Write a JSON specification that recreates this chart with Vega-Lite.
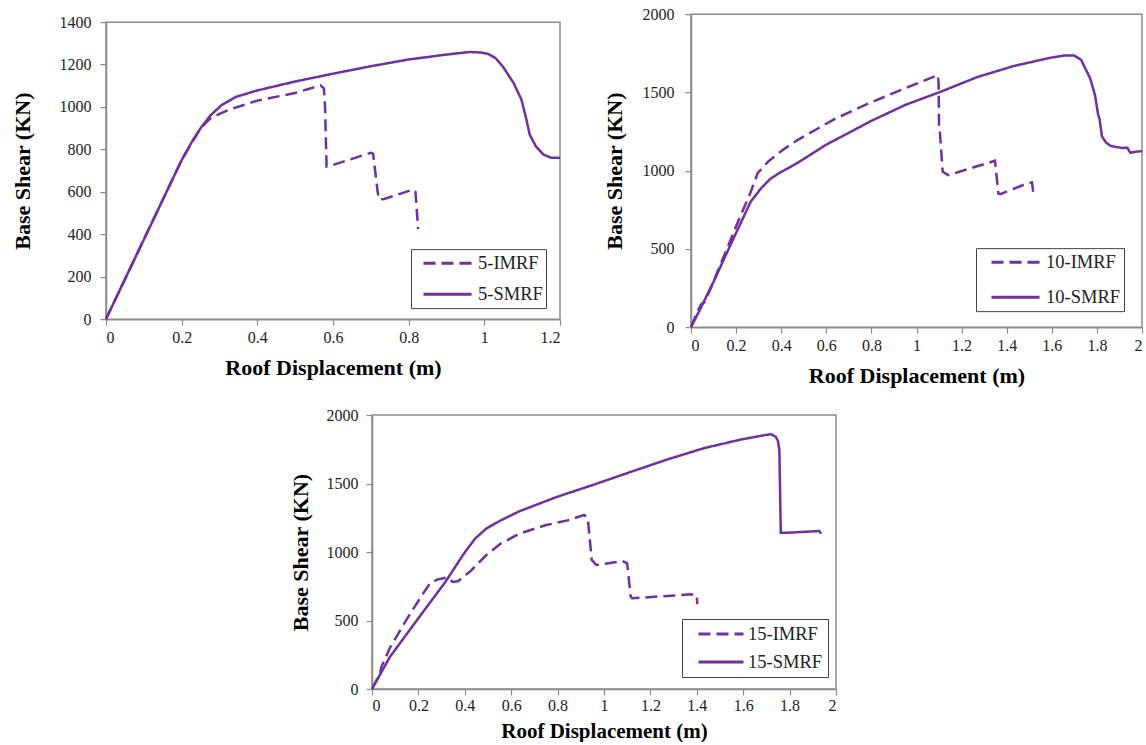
{
  "$schema": "https://vega.github.io/schema/vega-lite/v6.json",
  "padding": {"left": 10, "top": 5, "right": 0, "bottom": 0},
  "background": "white",
  "config": {
    "font": "Liberation Serif",
    "view": {"stroke": "#8c8c8c", "strokeWidth": 1.5},
    "axis": {
      "domainColor": "#8c8c8c", "domainWidth": 1.5, "tickColor": "#8c8c8c", "tickWidth": 1.2, "tickSize": 6,
      "grid": false, "labelFont": "Liberation Serif", "labelFontSize": 16, "labelColor": "#222222",
      "titleFont": "Liberation Serif", "titleFontSize": 22, "titleFontWeight": "bold", "titleColor": "#000000"
    },
    "axisX": {"labelPadding": 4, "titlePadding": 12},
    "legend": {
      "strokeColor": "#444444", "fillColor": "white", "labelFont": "Liberation Serif", "labelFontSize": 18.5,
      "labelColor": "#222222", "symbolType": "stroke", "symbolStrokeColor": "#7030A0", "symbolStrokeWidth": 3
    }
  },
  "datasets": {
    "p5": [
      {"s": "5-SMRF", "x": 0, "y": 0}, {"s": "5-SMRF", "x": 0.05, "y": 188}, {"s": "5-SMRF", "x": 0.1, "y": 375},
      {"s": "5-SMRF", "x": 0.15, "y": 562}, {"s": "5-SMRF", "x": 0.2, "y": 750}, {"s": "5-SMRF", "x": 0.23, "y": 845},
      {"s": "5-SMRF", "x": 0.25, "y": 900}, {"s": "5-SMRF", "x": 0.276, "y": 960}, {"s": "5-SMRF", "x": 0.305, "y": 1008},
      {"s": "5-SMRF", "x": 0.344, "y": 1048}, {"s": "5-SMRF", "x": 0.4, "y": 1078}, {"s": "5-SMRF", "x": 0.5, "y": 1120},
      {"s": "5-SMRF", "x": 0.6, "y": 1157}, {"s": "5-SMRF", "x": 0.7, "y": 1192}, {"s": "5-SMRF", "x": 0.8, "y": 1224},
      {"s": "5-SMRF", "x": 0.9, "y": 1247}, {"s": "5-SMRF", "x": 0.96, "y": 1259}, {"s": "5-SMRF", "x": 0.99, "y": 1257},
      {"s": "5-SMRF", "x": 1.01, "y": 1250}, {"s": "5-SMRF", "x": 1.03, "y": 1230}, {"s": "5-SMRF", "x": 1.05, "y": 1188},
      {"s": "5-SMRF", "x": 1.078, "y": 1111}, {"s": "5-SMRF", "x": 1.098, "y": 1035}, {"s": "5-SMRF", "x": 1.11, "y": 950},
      {"s": "5-SMRF", "x": 1.12, "y": 870}, {"s": "5-SMRF", "x": 1.136, "y": 815}, {"s": "5-SMRF", "x": 1.156, "y": 776},
      {"s": "5-SMRF", "x": 1.176, "y": 761}, {"s": "5-SMRF", "x": 1.2, "y": 760},
      {"s": "5-IMRF", "x": 0, "y": 0}, {"s": "5-IMRF", "x": 0.1, "y": 375}, {"s": "5-IMRF", "x": 0.2, "y": 750},
      {"s": "5-IMRF", "x": 0.25, "y": 900}, {"s": "5-IMRF", "x": 0.275, "y": 945}, {"s": "5-IMRF", "x": 0.3, "y": 968},
      {"s": "5-IMRF", "x": 0.33, "y": 990}, {"s": "5-IMRF", "x": 0.4, "y": 1030}, {"s": "5-IMRF", "x": 0.5, "y": 1066},
      {"s": "5-IMRF", "x": 0.567, "y": 1102}, {"s": "5-IMRF", "x": 0.576, "y": 1088}, {"s": "5-IMRF", "x": 0.579, "y": 1000},
      {"s": "5-IMRF", "x": 0.583, "y": 720}, {"s": "5-IMRF", "x": 0.595, "y": 724}, {"s": "5-IMRF", "x": 0.7, "y": 784},
      {"s": "5-IMRF", "x": 0.706, "y": 780}, {"s": "5-IMRF", "x": 0.718, "y": 600}, {"s": "5-IMRF", "x": 0.722, "y": 564},
      {"s": "5-IMRF", "x": 0.735, "y": 566}, {"s": "5-IMRF", "x": 0.812, "y": 611}, {"s": "5-IMRF", "x": 0.818, "y": 600},
      {"s": "5-IMRF", "x": 0.825, "y": 425}
    ],
    "p10": [
      {"s": "10-SMRF", "x": 0, "y": 0}, {"s": "10-SMRF", "x": 0.04, "y": 113}, {"s": "10-SMRF", "x": 0.1, "y": 290},
      {"s": "10-SMRF", "x": 0.152, "y": 453}, {"s": "10-SMRF", "x": 0.2, "y": 602}, {"s": "10-SMRF", "x": 0.264, "y": 800},
      {"s": "10-SMRF", "x": 0.312, "y": 889}, {"s": "10-SMRF", "x": 0.35, "y": 945}, {"s": "10-SMRF", "x": 0.392, "y": 985},
      {"s": "10-SMRF", "x": 0.472, "y": 1049}, {"s": "10-SMRF", "x": 0.6, "y": 1166}, {"s": "10-SMRF", "x": 0.8, "y": 1318},
      {"s": "10-SMRF", "x": 0.952, "y": 1421}, {"s": "10-SMRF", "x": 1.1, "y": 1500}, {"s": "10-SMRF", "x": 1.27, "y": 1598},
      {"s": "10-SMRF", "x": 1.43, "y": 1668}, {"s": "10-SMRF", "x": 1.59, "y": 1720}, {"s": "10-SMRF", "x": 1.656, "y": 1736},
      {"s": "10-SMRF", "x": 1.7, "y": 1735}, {"s": "10-SMRF", "x": 1.73, "y": 1708}, {"s": "10-SMRF", "x": 1.77, "y": 1590},
      {"s": "10-SMRF", "x": 1.792, "y": 1480}, {"s": "10-SMRF", "x": 1.805, "y": 1360}, {"s": "10-SMRF", "x": 1.812, "y": 1330},
      {"s": "10-SMRF", "x": 1.822, "y": 1220}, {"s": "10-SMRF", "x": 1.84, "y": 1180}, {"s": "10-SMRF", "x": 1.862, "y": 1157},
      {"s": "10-SMRF", "x": 1.912, "y": 1145}, {"s": "10-SMRF", "x": 1.935, "y": 1146}, {"s": "10-SMRF", "x": 1.948, "y": 1114},
      {"s": "10-SMRF", "x": 1.97, "y": 1120}, {"s": "10-SMRF", "x": 2.0, "y": 1125},
      {"s": "10-IMRF", "x": 0, "y": 0}, {"s": "10-IMRF", "x": 0.03, "y": 105}, {"s": "10-IMRF", "x": 0.045, "y": 145},
      {"s": "10-IMRF", "x": 0.06, "y": 160}, {"s": "10-IMRF", "x": 0.088, "y": 250}, {"s": "10-IMRF", "x": 0.152, "y": 474},
      {"s": "10-IMRF", "x": 0.2, "y": 645}, {"s": "10-IMRF", "x": 0.264, "y": 860}, {"s": "10-IMRF", "x": 0.296, "y": 985},
      {"s": "10-IMRF", "x": 0.344, "y": 1060}, {"s": "10-IMRF", "x": 0.408, "y": 1134}, {"s": "10-IMRF", "x": 0.472, "y": 1195},
      {"s": "10-IMRF", "x": 0.632, "y": 1326}, {"s": "10-IMRF", "x": 0.792, "y": 1432}, {"s": "10-IMRF", "x": 0.952, "y": 1528},
      {"s": "10-IMRF", "x": 1.095, "y": 1610}, {"s": "10-IMRF", "x": 1.098, "y": 1560}, {"s": "10-IMRF", "x": 1.1, "y": 1262},
      {"s": "10-IMRF", "x": 1.104, "y": 1240}, {"s": "10-IMRF", "x": 1.116, "y": 992}, {"s": "10-IMRF", "x": 1.141, "y": 971},
      {"s": "10-IMRF", "x": 1.348, "y": 1063}, {"s": "10-IMRF", "x": 1.363, "y": 854}, {"s": "10-IMRF", "x": 1.372, "y": 850},
      {"s": "10-IMRF", "x": 1.48, "y": 912}, {"s": "10-IMRF", "x": 1.512, "y": 925}, {"s": "10-IMRF", "x": 1.518, "y": 858}
    ],
    "p15": [
      {"s": "15-SMRF", "x": 0, "y": 0}, {"s": "15-SMRF", "x": 0.077, "y": 234}, {"s": "15-SMRF", "x": 0.204, "y": 526},
      {"s": "15-SMRF", "x": 0.316, "y": 781}, {"s": "15-SMRF", "x": 0.396, "y": 988}, {"s": "15-SMRF", "x": 0.444, "y": 1097},
      {"s": "15-SMRF", "x": 0.492, "y": 1170}, {"s": "15-SMRF", "x": 0.555, "y": 1231}, {"s": "15-SMRF", "x": 0.635, "y": 1297},
      {"s": "15-SMRF", "x": 0.795, "y": 1401}, {"s": "15-SMRF", "x": 0.955, "y": 1491}, {"s": "15-SMRF", "x": 1.114, "y": 1584},
      {"s": "15-SMRF", "x": 1.274, "y": 1676}, {"s": "15-SMRF", "x": 1.433, "y": 1759}, {"s": "15-SMRF", "x": 1.593, "y": 1822},
      {"s": "15-SMRF", "x": 1.7, "y": 1855}, {"s": "15-SMRF", "x": 1.72, "y": 1860}, {"s": "15-SMRF", "x": 1.74, "y": 1842},
      {"s": "15-SMRF", "x": 1.75, "y": 1810}, {"s": "15-SMRF", "x": 1.756, "y": 1742}, {"s": "15-SMRF", "x": 1.762, "y": 1140},
      {"s": "15-SMRF", "x": 1.784, "y": 1140}, {"s": "15-SMRF", "x": 1.928, "y": 1153}, {"s": "15-SMRF", "x": 1.936, "y": 1134},
      {"s": "15-IMRF", "x": 0, "y": 0}, {"s": "15-IMRF", "x": 0.03, "y": 100}, {"s": "15-IMRF", "x": 0.035, "y": 112},
      {"s": "15-IMRF", "x": 0.04, "y": 160}, {"s": "15-IMRF", "x": 0.077, "y": 300}, {"s": "15-IMRF", "x": 0.156, "y": 526},
      {"s": "15-IMRF", "x": 0.22, "y": 696}, {"s": "15-IMRF", "x": 0.252, "y": 775}, {"s": "15-IMRF", "x": 0.284, "y": 800},
      {"s": "15-IMRF", "x": 0.324, "y": 815}, {"s": "15-IMRF", "x": 0.348, "y": 781}, {"s": "15-IMRF", "x": 0.372, "y": 788},
      {"s": "15-IMRF", "x": 0.428, "y": 866}, {"s": "15-IMRF", "x": 0.492, "y": 976}, {"s": "15-IMRF", "x": 0.555, "y": 1061},
      {"s": "15-IMRF", "x": 0.635, "y": 1134}, {"s": "15-IMRF", "x": 0.747, "y": 1195}, {"s": "15-IMRF", "x": 0.843, "y": 1231},
      {"s": "15-IMRF", "x": 0.914, "y": 1270}, {"s": "15-IMRF", "x": 0.93, "y": 1250}, {"s": "15-IMRF", "x": 0.947, "y": 942},
      {"s": "15-IMRF", "x": 0.967, "y": 905}, {"s": "15-IMRF", "x": 1.079, "y": 934}, {"s": "15-IMRF", "x": 1.1, "y": 917},
      {"s": "15-IMRF", "x": 1.115, "y": 674}, {"s": "15-IMRF", "x": 1.122, "y": 662}, {"s": "15-IMRF", "x": 1.374, "y": 691},
      {"s": "15-IMRF", "x": 1.4, "y": 684}, {"s": "15-IMRF", "x": 1.402, "y": 620}
    ]
  },
  "vconcat": [
    {
      "hconcat": [
        {
          "width": 454, "height": 297,
          "data": {"name": "p5"},
          "mark": {"type": "line", "color": "#7030A0", "strokeWidth": 2.5},
          "encoding": {
            "x": {"field": "x", "type": "quantitative", "scale": {"domain": [0, 1.2], "nice": false},
                  "axis": {"values": [0, 0.2, 0.4, 0.6, 0.8, 1, 1.2], "format": "~g", "title": "Roof Displacement (m)"}},
            "y": {"field": "y", "type": "quantitative", "scale": {"domain": [0, 1400], "nice": false},
                  "axis": {"values": [0, 200, 400, 600, 800, 1000, 1200, 1400], "format": "d", "title": "Base Shear (KN)", "titlePadding": 25, "labelPadding": 9}},
            "strokeDash": {"field": "s", "type": "nominal",
                  "scale": {"domain": ["5-IMRF", "5-SMRF"], "range": [[12, 6], [1, 0]]},
                  "legend": {"title": null, "orient": "none", "legendX": 305, "legendY": 227, "padding": 3, "symbolSize": 2304, "symbolOffset": 8, "labelOffset": 5, "clipHeight": 22, "rowPadding": 9}}
          }
        },
        {
          "width": 451, "height": 313,
          "data": {"name": "p10"},
          "mark": {"type": "line", "color": "#7030A0", "strokeWidth": 2.5},
          "encoding": {
            "x": {"field": "x", "type": "quantitative", "scale": {"domain": [0, 2], "nice": false},
                  "axis": {"values": [0, 0.2, 0.4, 0.6, 0.8, 1, 1.2, 1.4, 1.6, 1.8, 2], "format": "~g", "title": "Roof Displacement (m)"}},
            "y": {"field": "y", "type": "quantitative", "scale": {"domain": [0, 2000], "nice": false},
                  "axis": {"values": [0, 500, 1000, 1500, 2000], "format": "d", "title": "Base Shear (KN)", "titlePadding": 16, "labelPadding": 11}},
            "strokeDash": {"field": "s", "type": "nominal",
                  "scale": {"domain": ["10-IMRF", "10-SMRF"], "range": [[12, 6], [1, 0]]},
                  "legend": {"title": null, "orient": "none", "legendX": 285, "legendY": 234, "padding": 3, "symbolSize": 2304, "symbolOffset": 11, "labelOffset": 5, "clipHeight": 22, "rowPadding": 13}}
          }
        }
      ],
      "spacing": 36,
      "center": true,
      "resolve": {"scale": {"strokeDash": "independent", "x": "independent", "y": "independent"}, "legend": {"strokeDash": "independent"}}
    },
    {
      "hconcat": [
        {
          "width": 182, "height": 10,
          "view": {"stroke": null},
          "data": {"values": []},
          "mark": {"type": "point"}
        },
        {
          "width": 464, "height": 274,
          "data": {"name": "p15"},
          "mark": {"type": "line", "color": "#7030A0", "strokeWidth": 2.5},
          "encoding": {
            "x": {"field": "x", "type": "quantitative", "scale": {"domain": [0, 2], "nice": false},
                  "axis": {"values": [0, 0.2, 0.4, 0.6, 0.8, 1, 1.2, 1.4, 1.6, 1.8, 2], "format": "~g", "title": "Roof Displacement (m)", "labelPadding": 2, "titlePadding": 7, "titleFontSize": 21}},
            "y": {"field": "y", "type": "quantitative", "scale": {"domain": [0, 2000], "nice": false},
                  "axis": {"values": [0, 500, 1000, 1500, 2000], "format": "d", "title": "Base Shear (KN)", "titlePadding": 14, "labelPadding": 8}},
            "strokeDash": {"field": "s", "type": "nominal",
                  "scale": {"domain": ["15-IMRF", "15-SMRF"], "range": [[12, 6], [1, 0]]},
                  "legend": {"title": null, "orient": "none", "legendX": 310, "legendY": 204, "padding": 5, "symbolSize": 2025, "symbolOffset": 10, "labelOffset": 3, "clipHeight": 20, "rowPadding": 8}}
          }
        }
      ],
      "spacing": 0,
      "resolve": {"scale": {"strokeDash": "independent", "x": "independent", "y": "independent"}, "legend": {"strokeDash": "independent"}}
    }
  ],
  "spacing": 19,
  "resolve": {"scale": {"strokeDash": "independent", "x": "independent", "y": "independent"}, "legend": {"strokeDash": "independent"}}
}
